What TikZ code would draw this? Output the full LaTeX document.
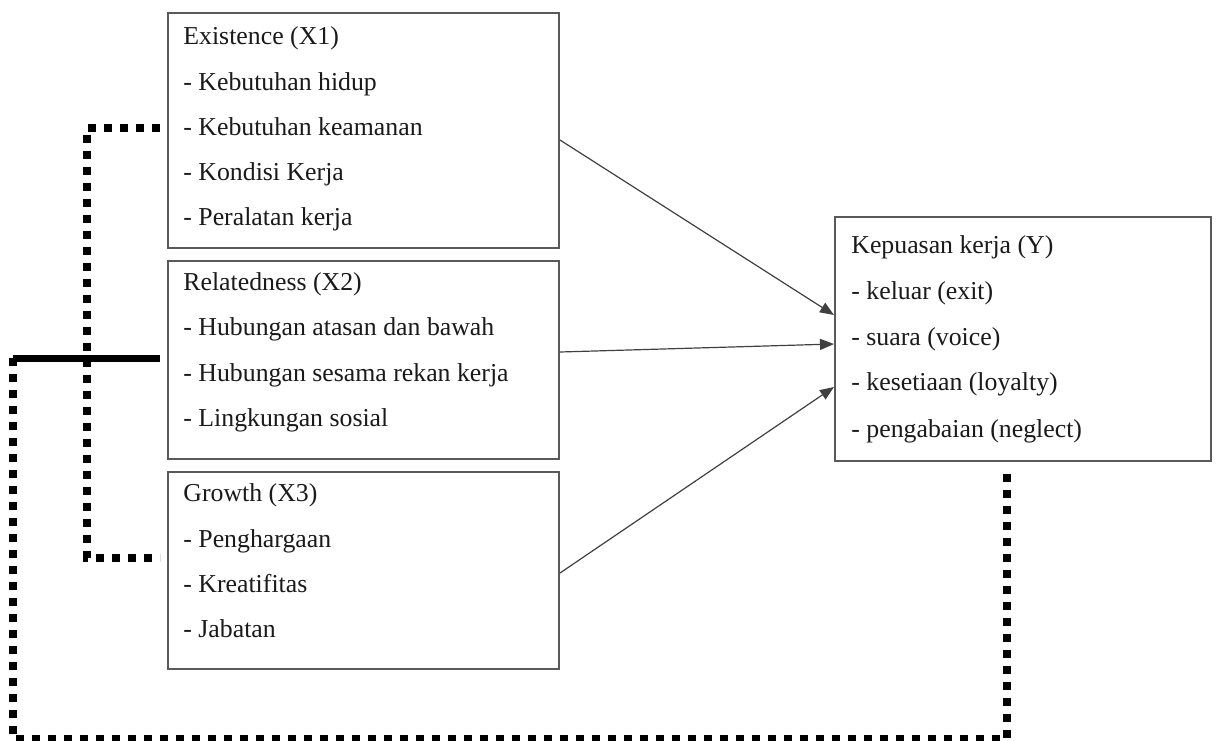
\documentclass[tikz,border=0pt]{standalone}
\usepackage{fontspec}
\setmainfont{Liberation Serif}
\usetikzlibrary{arrows.meta}
\definecolor{boxgray}{HTML}{5A5A5A}
\definecolor{linkgray}{HTML}{404040}
\definecolor{txtcol}{HTML}{1A1A1A}
\begin{document}
\begin{tikzpicture}[x=0.5pt,y=-0.5pt,
  box/.style={draw=boxgray, line width=1pt, anchor=north west, inner sep=0pt, fill=white},
  txt/.style={anchor=base west, inner sep=0pt, text=txtcol, font=\fontsize{12.9}{15}\selectfont},
  link/.style={draw=linkgray, line width=0.6pt, -{Triangle[length=7pt,width=5.5pt]}},
  dots/.style={line width=4pt, dash pattern=on 4pt off 4pt},
  solidbar/.style={line width=3.5pt}
]
\useasboundingbox (0,0) rectangle (1217,740);

% boxes
\node[box, minimum width=195.5pt, minimum height=117.5pt] (x1) at (167,12) {};
\node[box, minimum width=195.5pt, minimum height=99pt] (x2) at (167,260) {};
\node[box, minimum width=195.5pt, minimum height=98.5pt] (x3) at (167,471) {};
\node[box, minimum width=188pt, minimum height=122pt] (y) at (834,216) {};

% texts
\node[txt] (t11) at (183,44) {Existence (X1)};
\node[txt] (t12) at (183,90) {- Kebutuhan hidup};
\node[txt] (t13) at (183,135) {- Kebutuhan keamanan};
\node[txt] (t14) at (183,180) {- Kondisi Kerja};
\node[txt] (t15) at (183,225) {- Peralatan kerja};

\node[txt] (t21) at (183,290) {Relatedness (X2)};
\node[txt] (t22) at (183,335) {- Hubungan atasan dan bawah};
\node[txt] (t23) at (183,381) {- Hubungan sesama rekan kerja};
\node[txt] (t24) at (183,426) {- Lingkungan sosial};

\node[txt] (t31) at (183,501) {Growth (X3)};
\node[txt] (t32) at (183,547) {- Penghargaan};
\node[txt] (t33) at (183,592) {- Kreatifitas};
\node[txt] (t34) at (183,637) {- Jabatan};

\node[txt] (ty1) at (851,253) {Kepuasan kerja (Y)};
\node[txt] (ty2) at (851,299) {- keluar (exit)};
\node[txt] (ty3) at (851,345) {- suara (voice)};
\node[txt] (ty4) at (851,390) {- kesetiaan (loyalty)};
\node[txt] (ty5) at (851,437) {- pengabaian (neglect)};

% arrows
\draw[link] ([yshift=-64pt]x1.north east) -- ([yshift=-49.5pt]y.north west);
\draw[link] ([yshift=-46pt]x2.north east) -- ([yshift=-64pt]y.north west);
\draw[link] ([yshift=-51pt]x3.north east) -- ([yshift=-85.5pt]y.north west);

% dotted X1 -- X3
\draw[dots] ([xshift=-3.5pt,yshift=-58pt]x1.north west)
  -| ([xshift=-40pt,yshift=-43.5pt]x3.north west)
  -- ([xshift=-3.5pt,yshift=-43.5pt]x3.north west);

% thick bar from X2 and dotted loop to Y
\coordinate (c1) at (13,358);
\draw[solidbar] ([xshift=-3.5pt,yshift=-49pt]x2.north west) -- (c1);
\draw[dots] (c1) |- ([xshift=86.5pt,yshift=-138.5pt]y.south west)
  -- ([xshift=86.5pt,yshift=-2.5pt]y.south west);
\end{tikzpicture}
\end{document}
